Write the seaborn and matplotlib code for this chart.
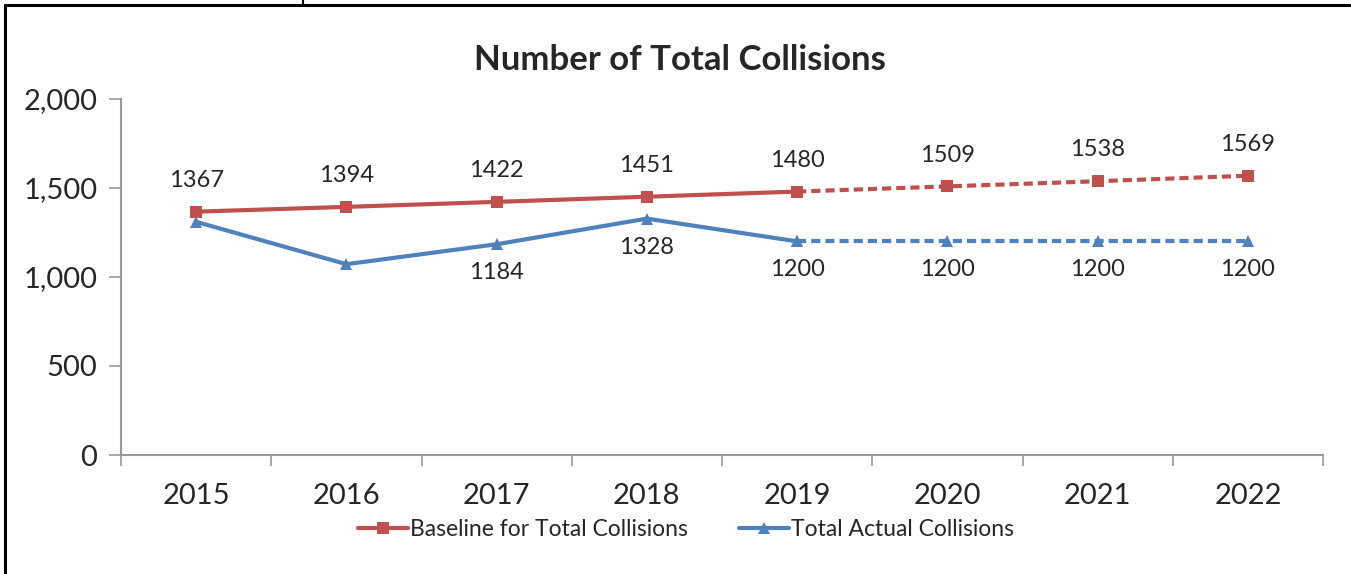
import numpy as np
import pandas as pd
import matplotlib
matplotlib.use('Agg')
import matplotlib.pyplot as plt
from matplotlib.lines import Line2D
import seaborn as sns

years = [2015, 2016, 2017, 2018, 2019, 2020, 2021, 2022]
baseline = [1367, 1394, 1422, 1451, 1480, 1509, 1538, 1569]
actual = [1310, 1072, 1184, 1328, 1200, 1200, 1200, 1200]
actual_labeled = [False, False, True, True, True, True, True, True]
last_observed = 2019

RED = "#C0504D"
BLUE = "#4F81BD"

sns.set_style("white")
plt.rcParams['font.family'] = ['Lato', 'DejaVu Sans']

df = pd.DataFrame({"year": years, "baseline": baseline, "actual": actual})
past = df[df.year <= last_observed]
future = df[df.year >= last_observed]

fig = plt.figure(figsize=(13.51, 5.74), dpi=100)
ax = fig.add_axes([121 / 1351, 1 - 455 / 574, 1202 / 1351, 356 / 574])

lw = 3.0
for col, color, marker, ms in [("baseline", RED, "s", 8), ("actual", BLUE, "^", 8)]:
    sns.lineplot(data=past, x="year", y=col, color=color, lw=lw, marker=marker,
                 markersize=ms, markeredgewidth=0, ax=ax, legend=False)
    sns.lineplot(data=future, x="year", y=col, color=color, lw=lw, marker=marker,
                 markersize=ms, markeredgewidth=0, ax=ax, legend=False,
                 linestyle=(0, (2.2, 1.2)))

# data labels
for x, b in zip(years, baseline):
    ax.annotate(str(b), (x, b), xytext=(0, 15), textcoords="offset points",
                ha="center", va="bottom", fontsize=17)
for x, a, show in zip(years, actual, actual_labeled):
    if show:
        ax.annotate(str(a), (x, a), xytext=(0, -13), textcoords="offset points",
                    ha="center", va="top", fontsize=17)

ax.set_xlim(years[0] - 0.5, years[-1] + 0.5)
ax.set_ylim(0, 2000)
ax.set_yticks([0, 500, 1000, 1500, 2000])
ax.set_yticklabels([f"{v:,}" for v in [0, 500, 1000, 1500, 2000]], fontsize=21)
ax.set_xticks(np.arange(years[0] - 0.5, years[-1] + 1, 1))
ax.set_xticklabels([])
ax.set_xticks(years, minor=True)
ax.set_xticklabels([str(y) for y in years], minor=True, fontsize=21)
ax.tick_params(axis="x", which="major", bottom=True, length=8, width=1.2,
               color="#999999", direction="out")
ax.tick_params(axis="x", which="minor", bottom=True, length=0, pad=20)
ax.tick_params(axis="y", left=True, length=9, width=1.2, color="#999999",
               direction="out", pad=8)
ax.set_xlabel("")
ax.set_ylabel("")
for s in ["top", "right"]:
    ax.spines[s].set_visible(False)
for s in ["left", "bottom"]:
    ax.spines[s].set_color("#999999")
    ax.spines[s].set_linewidth(1.5)

fig.text(680 / 1351, 1 - 60 / 574, "Number of Total Collisions", ha="center",
         va="center", fontsize=25, fontweight="bold")

handles = [Line2D([], [], color=RED, lw=lw, marker="s", markersize=8, markeredgewidth=0),
           Line2D([], [], color=BLUE, lw=lw, marker="^", markersize=8, markeredgewidth=0)]
fig.legend(handles, ["Baseline for Total Collisions", "Total Actual Collisions"],
           loc="center", bbox_to_anchor=(686 / 1351, 1 - 530 / 574), ncol=2,
           frameon=False, fontsize=16.5, handlelength=2.2, handletextpad=0.1,
           columnspacing=2.2)

# page frame lines
fig.add_artist(Line2D([5 / 1351, 5 / 1351], [0, 1 - 5 / 574], color="black", lw=2.2))
fig.add_artist(Line2D([5 / 1351, 1], [1 - 5 / 574, 1 - 5 / 574], color="black", lw=2.2))
fig.add_artist(Line2D([303 / 1351, 303 / 1351], [1 - 5 / 574, 1], color="black", lw=1.5))

fig.savefig("out.png", dpi=100)
